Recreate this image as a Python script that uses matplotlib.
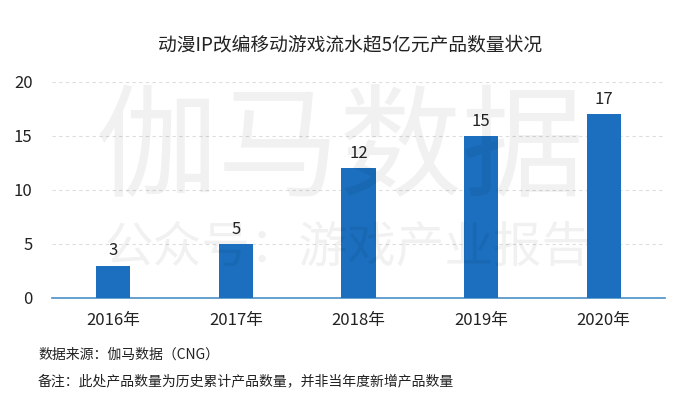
import matplotlib
matplotlib.use("Agg")
import matplotlib.pyplot as plt

plt.rcParams['font.family'] = ['Noto Sans CJK SC', 'DejaVu Sans']

categories = ["2016年", "2017年", "2018年", "2019年", "2020年"]
values = [3, 5, 12, 15, 17]
yticks = [0, 5, 10, 15, 20]
title = "动漫IP改编移动游戏流水超5亿元产品数量状况"
source = "数据来源：伽马数据（CNG）"
note = "备注：此处产品数量为历史累计产品数量，并非当年度新增产品数量"
watermark1 = "伽马数据"
watermark2 = "公众号：游戏产业报告"

fig = plt.figure(figsize=(7, 3.97), dpi=100)
ax = fig.add_axes([52/700, 1-298/397, 613/700, 216/397])

# watermark (faint, behind everything)
fig.text(340/700, 1-152/397, watermark1, ha="center", va="center", fontsize=88,
         color="#000000", alpha=0.055, zorder=0)
fig.text(348/700, 1-248/397, watermark2, ha="center", va="center", fontsize=35,
         color="#000000", alpha=0.055, zorder=0)
ax.patch.set_alpha(0)

x = list(range(len(categories)))
ax.bar(x, values, width=0.28, color="#1b6fbe", zorder=3)
for xi, v in zip(x, values):
    ax.text(xi, v + 0.6, str(v), ha="center", va="bottom", fontsize=12, color="#222222")

ax.set_xlim(-0.5, len(categories) - 0.5)
ax.set_ylim(0, 20)
ax.set_yticks(yticks)
ax.set_xticks(x)
ax.set_xticklabels(categories)
ax.tick_params(axis="both", length=0, labelsize=12, colors="#222222")
ax.tick_params(axis="y", pad=14)
ax.tick_params(axis="x", pad=10)
for s in ["top", "right", "left"]:
    ax.spines[s].set_visible(False)
ax.spines["bottom"].set_color("#4a90c8")
ax.spines["bottom"].set_linewidth(1.2)
ax.yaxis.grid(True, linestyle=(0, (3, 3)), color="#dddddd", linewidth=0.8, zorder=0)
ax.set_axisbelow(True)

fig.text(0.5, 1-45/397, title, ha="center", va="center", fontsize=13.5, color="#222222")
fig.text(38/700, 1-355/397, source, ha="left", va="center", fontsize=10, color="#222222")
fig.text(38/700, 1-381/397, note, ha="left", va="center", fontsize=10, color="#222222")

fig.savefig("out.png", dpi=100)
